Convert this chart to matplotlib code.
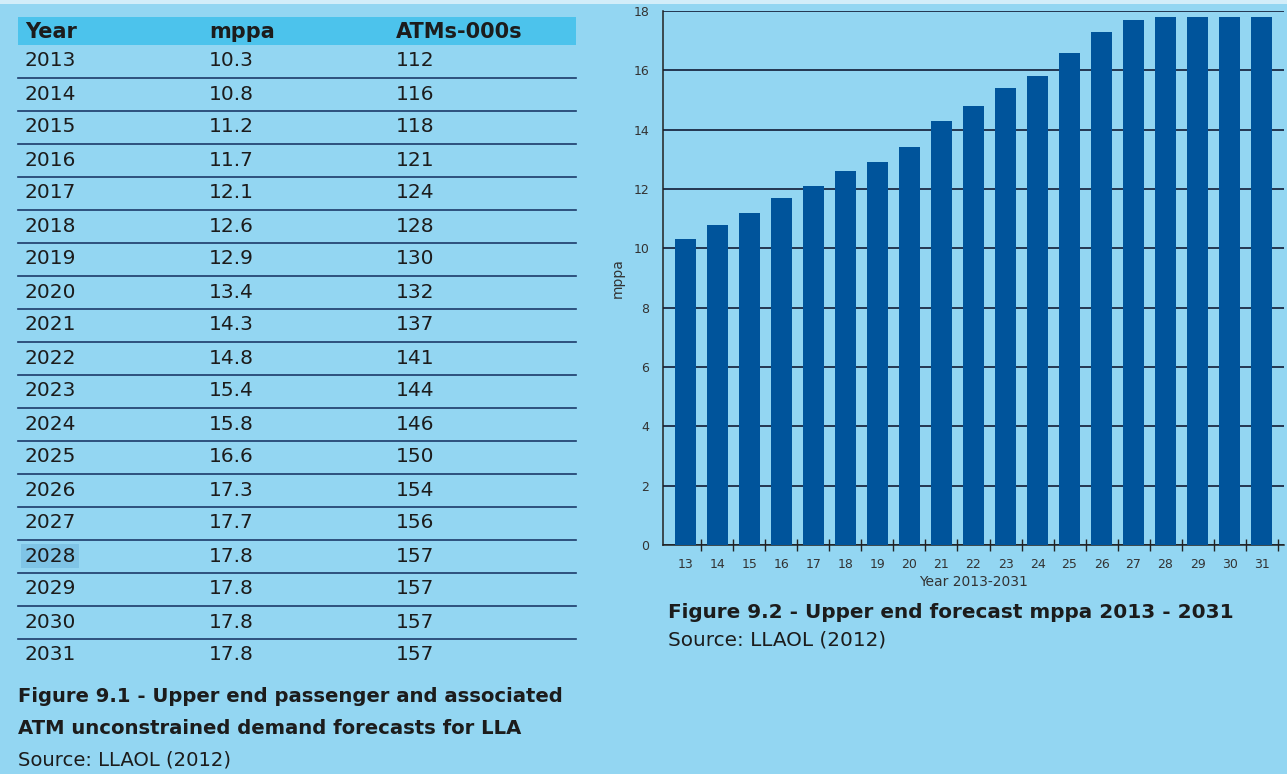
import matplotlib.pyplot as plt
from matplotlib.patches import Rectangle

years = list(range(2013, 2032))
mppa = [10.3, 10.8, 11.2, 11.7, 12.1, 12.6, 12.9, 13.4, 14.3, 14.8,
        15.4, 15.8, 16.6, 17.3, 17.7, 17.8, 17.8, 17.8, 17.8]
atms = [112, 116, 118, 121, 124, 128, 130, 132, 137, 141,
        144, 146, 150, 154, 156, 157, 157, 157, 157]
headers = ["Year", "mppa", "ATMs-000s"]
short_years = [str(y)[2:] for y in years]

bg = "#93d6f2"
head_col = "#4cc3ec"
bar_col = "#00549b"
ink = "#1c1c1c"
plt.rcParams['font.family'] = ['DejaVu Sans']

W, H = 1287, 774
fig = plt.figure(figsize=(W / 100, H / 100), dpi=100, facecolor=bg)

# table drawn in pixel coordinates
tab = fig.add_axes([0, 0, 1, 1])
tab.set_xlim(0, W)
tab.set_ylim(H, 0)
tab.axis("off")
tab.add_patch(Rectangle((0, 0), W, 4, facecolor="#d2edf9", edgecolor="none"))

col_x = [25, 209, 396]
tab.add_patch(Rectangle((18, 17), 558, 28, facecolor=head_col, edgecolor="none"))
for x, h in zip(col_x, headers):
    tab.text(x, 32, h, fontsize=15, fontweight="bold", color=ink, va="center")

row_h = 33.0
y0 = 61
for i, (yr, m, a) in enumerate(zip(years, mppa, atms)):
    yc = y0 + i * row_h
    if yr == 2028:
        tab.add_patch(Rectangle((21, yc - 12), 58, 24, facecolor="#7fc4e6", edgecolor="none"))
    tab.text(col_x[0], yc, str(yr), fontsize=14.5, color=ink, va="center")
    tab.text(col_x[1], yc, f"{m:.1f}", fontsize=14.5, color=ink, va="center")
    tab.text(col_x[2], yc, str(a), fontsize=14.5, color=ink, va="center")
    if i < len(years) - 1:
        tab.plot([18, 576], [yc + row_h / 2, yc + row_h / 2], color="#1d3a6a", lw=1.2)

tab.text(18, 697, "Figure 9.1 - Upper end passenger and associated", fontsize=14.1,
         fontweight="bold", color=ink, va="center")
tab.text(18, 729, "ATM unconstrained demand forecasts for LLA", fontsize=14.1,
         fontweight="bold", color=ink, va="center")
tab.text(18, 760, "Source: LLAOL (2012)", fontsize=14.1, color=ink, va="center")

tab.text(668, 612, "Figure 9.2 - Upper end forecast mppa 2013 - 2031", fontsize=14.4,
         fontweight="bold", color=ink, va="center")
tab.text(668, 640, "Source: LLAOL (2012)", fontsize=14.4, color=ink, va="center")

# bar chart
ax = fig.add_axes([663 / W, (H - 545) / H, (1284 - 663) / W, (545 - 11) / H])
ax.set_facecolor(bg)
xs = [int(s) for s in short_years]
ax.bar(xs, mppa, width=0.66, color=bar_col, zorder=3)
ax.set_xlim(12.3, 31.7)
ax.set_ylim(0, 18)
ax.set_yticks(range(0, 19, 2))
ax.yaxis.grid(True, color="#1b2a45", lw=1.3, zorder=1)
ax.set_xticks(xs)
ax.set_xticklabels(short_years)
ax.set_xticks([x + 0.5 for x in xs], minor=True)
ax.tick_params(axis="x", which="major", length=0, pad=9, labelsize=9, labelcolor="#333333")
ax.tick_params(axis="x", which="minor", direction="inout", length=9, width=1, color="#222222")
ax.tick_params(axis="y", length=0, pad=10, labelsize=9, labelcolor="#333333")
for s in ["top", "right"]:
    ax.spines[s].set_visible(False)
for s in ["left", "bottom"]:
    ax.spines[s].set_color("#222222")
    ax.spines[s].set_linewidth(1.1)
ax.set_xlabel("Year 2013-2031", fontsize=10, color="#333333", labelpad=3)
ax.set_ylabel("mppa", fontsize=10, color="#333333", labelpad=6)

fig.savefig("out.png", dpi=100, facecolor=bg)
